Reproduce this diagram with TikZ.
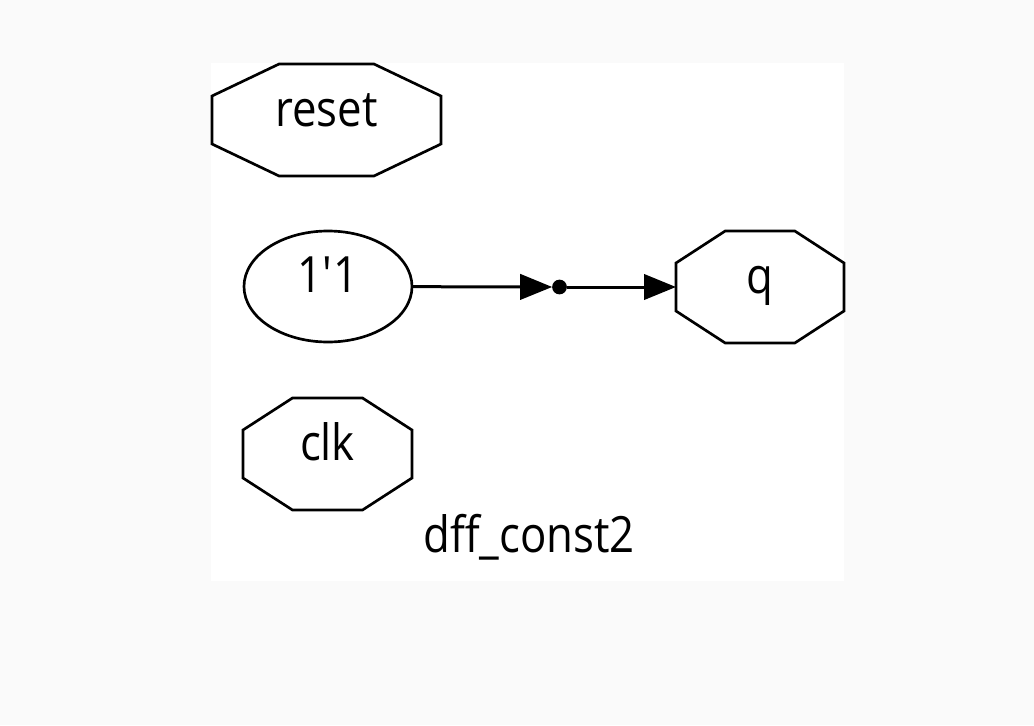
\documentclass[tikz,border=0pt]{standalone}
\usepackage{fontspec}
\setmainfont{Open Sans}[FakeStretch=0.875]
\usetikzlibrary{shapes.geometric,arrows.meta,calc}

\definecolor{pagegray}{HTML}{FAFAFA}
\tikzset{every picture/.style={line width=2pt}}
\tikzset{
  netlabel/.style={font=\fontsize{37.5}{45}\selectfont, text height=23pt, text depth=14pt, inner sep=0pt, outer sep=0pt},
  portbox/.style={netlabel, minimum height=84pt},
  constnode/.style={netlabel, ellipse, draw, minimum width=126pt, minimum height=83.25pt},
  wire/.style={line width=2.25pt, -{Triangle[length=24pt,width=19pt]}},
}
% octagon drawn round a port node
\newcommand{\octport}[1]{%
  \draw ($(#1.north west)!0.2929!(#1.north east)$) -- ($(#1.north east)!0.2929!(#1.north west)$)
    -- ($(#1.north east)!0.2857!(#1.south east)$) -- ($(#1.south east)!0.2857!(#1.north east)$)
    -- ($(#1.south east)!0.2929!(#1.south west)$) -- ($(#1.south west)!0.2929!(#1.south east)$)
    -- ($(#1.south west)!0.2857!(#1.north west)$) -- ($(#1.north west)!0.2857!(#1.south west)$) -- cycle;}

\begin{document}
\begin{tikzpicture}[x=0.75pt,y=0.75pt,yscale=-1,xscale=1]
\useasboundingbox (0,0) rectangle (1034,725);
\fill[pagegray] (0,0) rectangle (1034,725);
\fill[white] (211,63) rectangle (844,581);

% Ports
\node[portbox, minimum width=171.75pt] (reset) at (326.5,120) {reset};
\octport{reset}
\node[portbox, minimum width=126pt] (q) at (760,287) {q};
\octport{q}
\node[portbox, minimum width=126.75pt] (clk) at (327.5,454) {clk};
\octport{clk}

% Constant
\node[constnode] (one) at (328,286.5) {1\textquotesingle 1};

% Junction
\node[circle, draw, fill, inner sep=0pt, minimum size=9pt] (jn) at (559.5,287) {};

% Wires
\draw[wire] (one) -- (jn);
\draw[wire] (jn) -- (q);

% Module name
\node[netlabel, anchor=base] (title) at (529,552) {dff\_const2};
\end{tikzpicture}
\end{document}
